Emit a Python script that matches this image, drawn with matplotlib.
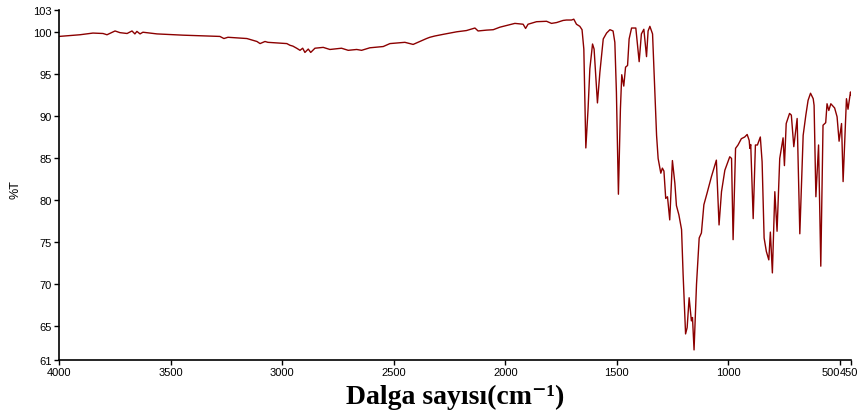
import matplotlib
matplotlib.use("Agg")
import matplotlib.pyplot as plt
import matplotlib.transforms as mtransforms

# IR spectrum (wavenumber cm-1, %T)
wavenumber = [
    4000, 3906, 3848, 3803, 3785, 3749, 3727, 3695, 3673, 3660, 3651, 3637, 3624,
    3561, 3444, 3279, 3261, 3243, 3158, 3113, 3099, 3077, 3064, 2979, 2965, 2952,
    2935, 2920, 2908, 2898, 2883, 2872, 2853, 2816, 2786, 2734, 2704, 2666, 2644,
    2607, 2547, 2517, 2450, 2413, 2383, 2353, 2338, 2316, 2278, 2218, 2174, 2136,
    2122, 2084, 2054, 2024, 1987, 1957, 1920, 1909, 1898, 1860, 1815, 1793, 1770,
    1741, 1726, 1703, 1693, 1681, 1666, 1656, 1648, 1639, 1629, 1621, 1609, 1602,
    1587, 1576, 1561, 1546, 1531, 1517, 1509, 1502, 1493, 1484, 1478, 1469, 1461,
    1452, 1445, 1434, 1415, 1400, 1390, 1379, 1367, 1360, 1352, 1340, 1322, 1315,
    1303, 1296, 1289, 1281, 1273, 1263, 1251, 1240, 1233, 1222, 1210, 1203, 1192,
    1185, 1176, 1166, 1161, 1154, 1143, 1131, 1121, 1110, 1096, 1076, 1054, 1042,
    1031, 1016, 994, 986, 979, 968, 957, 942, 927, 916, 907, 904, 900, 889, 879,
    870, 857, 849, 840, 830, 819, 812, 803, 792, 782, 770, 755, 749, 741, 726, 718,
    707, 692, 680, 665, 653, 643, 632, 620, 616, 608, 596, 586, 576, 564, 558, 550,
    541, 524, 513, 504, 493, 486, 471, 464, 453, 450,
]
transmittance = [
    99.45, 99.65, 99.85, 99.8, 99.65, 100.1, 99.9, 99.8, 100.1, 99.75, 100.05, 99.75, 99.95,
    99.75, 99.6, 99.45, 99.2, 99.35, 99.2, 98.85, 98.6, 98.85, 98.75, 98.6, 98.4, 98.3,
    98.05, 97.8, 98.05, 97.55, 97.95, 97.55, 98.05, 98.15, 97.9, 98.05, 97.8, 97.9, 97.8,
    98.1, 98.25, 98.6, 98.75, 98.5, 98.85, 99.2, 99.35, 99.5, 99.7, 100.0, 100.15, 100.45,
    100.1, 100.2, 100.25, 100.55, 100.8, 101.0, 100.9, 100.4, 100.9, 101.2, 101.25, 101.0, 101.1,
    101.35, 101.4, 101.4, 101.5, 100.9, 100.65, 100.25, 97.95, 86.2, 90.85, 95.6, 98.55, 97.95,
    91.55, 95.2, 99.15, 99.85, 100.25, 100.1, 98.75, 92.85, 80.7, 90.85, 94.9, 93.55, 95.8,
    96.0, 99.15, 100.45, 100.45, 96.45, 99.75, 100.3, 97.05, 100.1, 100.65, 99.75, 87.7, 84.95,
    83.2, 83.8, 83.45, 80.2, 80.4, 77.65, 84.7, 82.0, 79.35, 78.25, 76.5, 71.15, 64.1,
    64.85, 68.4, 65.65, 66.05, 62.2, 70.0, 75.5, 76.1, 79.45, 80.8, 82.8, 84.75, 77.05,
    81.0, 83.55, 85.15, 84.95, 75.3, 86.15, 86.55, 87.3, 87.5, 87.8, 87.1, 86.15, 86.6, 77.8, 86.55,
    86.55, 87.5, 84.55, 75.5, 73.9, 72.9, 76.2, 71.35, 81.0, 76.3, 84.95, 87.4, 84.1, 89.1, 90.3, 90.1,
    86.35, 89.7, 76.0, 87.7, 90.1, 91.85, 92.7, 92.05, 91.25, 80.4, 86.55, 72.15, 88.9, 89.2, 91.45, 90.65,
    91.45, 90.95, 89.9, 87.0, 89.1, 82.2, 92.05, 90.8, 92.85, 92.5,
]

xticks = [4000, 3500, 3000, 2500, 2000, 1500, 1000, 500, 450]
yticks = [61, 65, 70, 75, 80, 85, 90, 95, 100]

plt.rcParams['font.family'] = ['Liberation Sans', 'DejaVu Sans']

fig = plt.figure(figsize=(8.58, 4.14), dpi=100)
ax = fig.add_axes([0.0688, 0.128, 0.9232, 0.845])

ax.plot(wavenumber, transmittance, color='#8b0000', lw=1.0)

ytop = 102.57
ax.set_xlim(4000, 450)
ax.set_ylim(61, ytop)
ax.set_xticks(xticks)
ax.set_xticklabels([str(v) for v in xticks])
ax.set_yticks(yticks + [ytop])
ax.set_yticklabels([str(v) for v in yticks] + ['103'])

for s in ['top', 'right']:
    ax.spines[s].set_visible(False)
for s in ['left', 'bottom']:
    ax.spines[s].set_linewidth(1.2)

ax.tick_params(axis='both', direction='out', length=3.5, width=1, labelsize=8, pad=1.5)
labels = ax.get_xticklabels()
labels[-2].set_horizontalalignment('right')
labels[-1].set_transform(labels[-1].get_transform() +
                         mtransforms.ScaledTranslation(-2 / 100, 0, fig.dpi_scale_trans))

ax.set_ylabel('%T', fontsize=9)
ax.yaxis.set_label_coords(-0.047, 0.49)
ax.set_xlabel('Dalga sayısı(cm⁻¹)', fontsize=20, fontweight='bold',
              family=['Liberation Serif', 'DejaVu Serif'], labelpad=5)

fig.savefig('out.png', dpi=100)
